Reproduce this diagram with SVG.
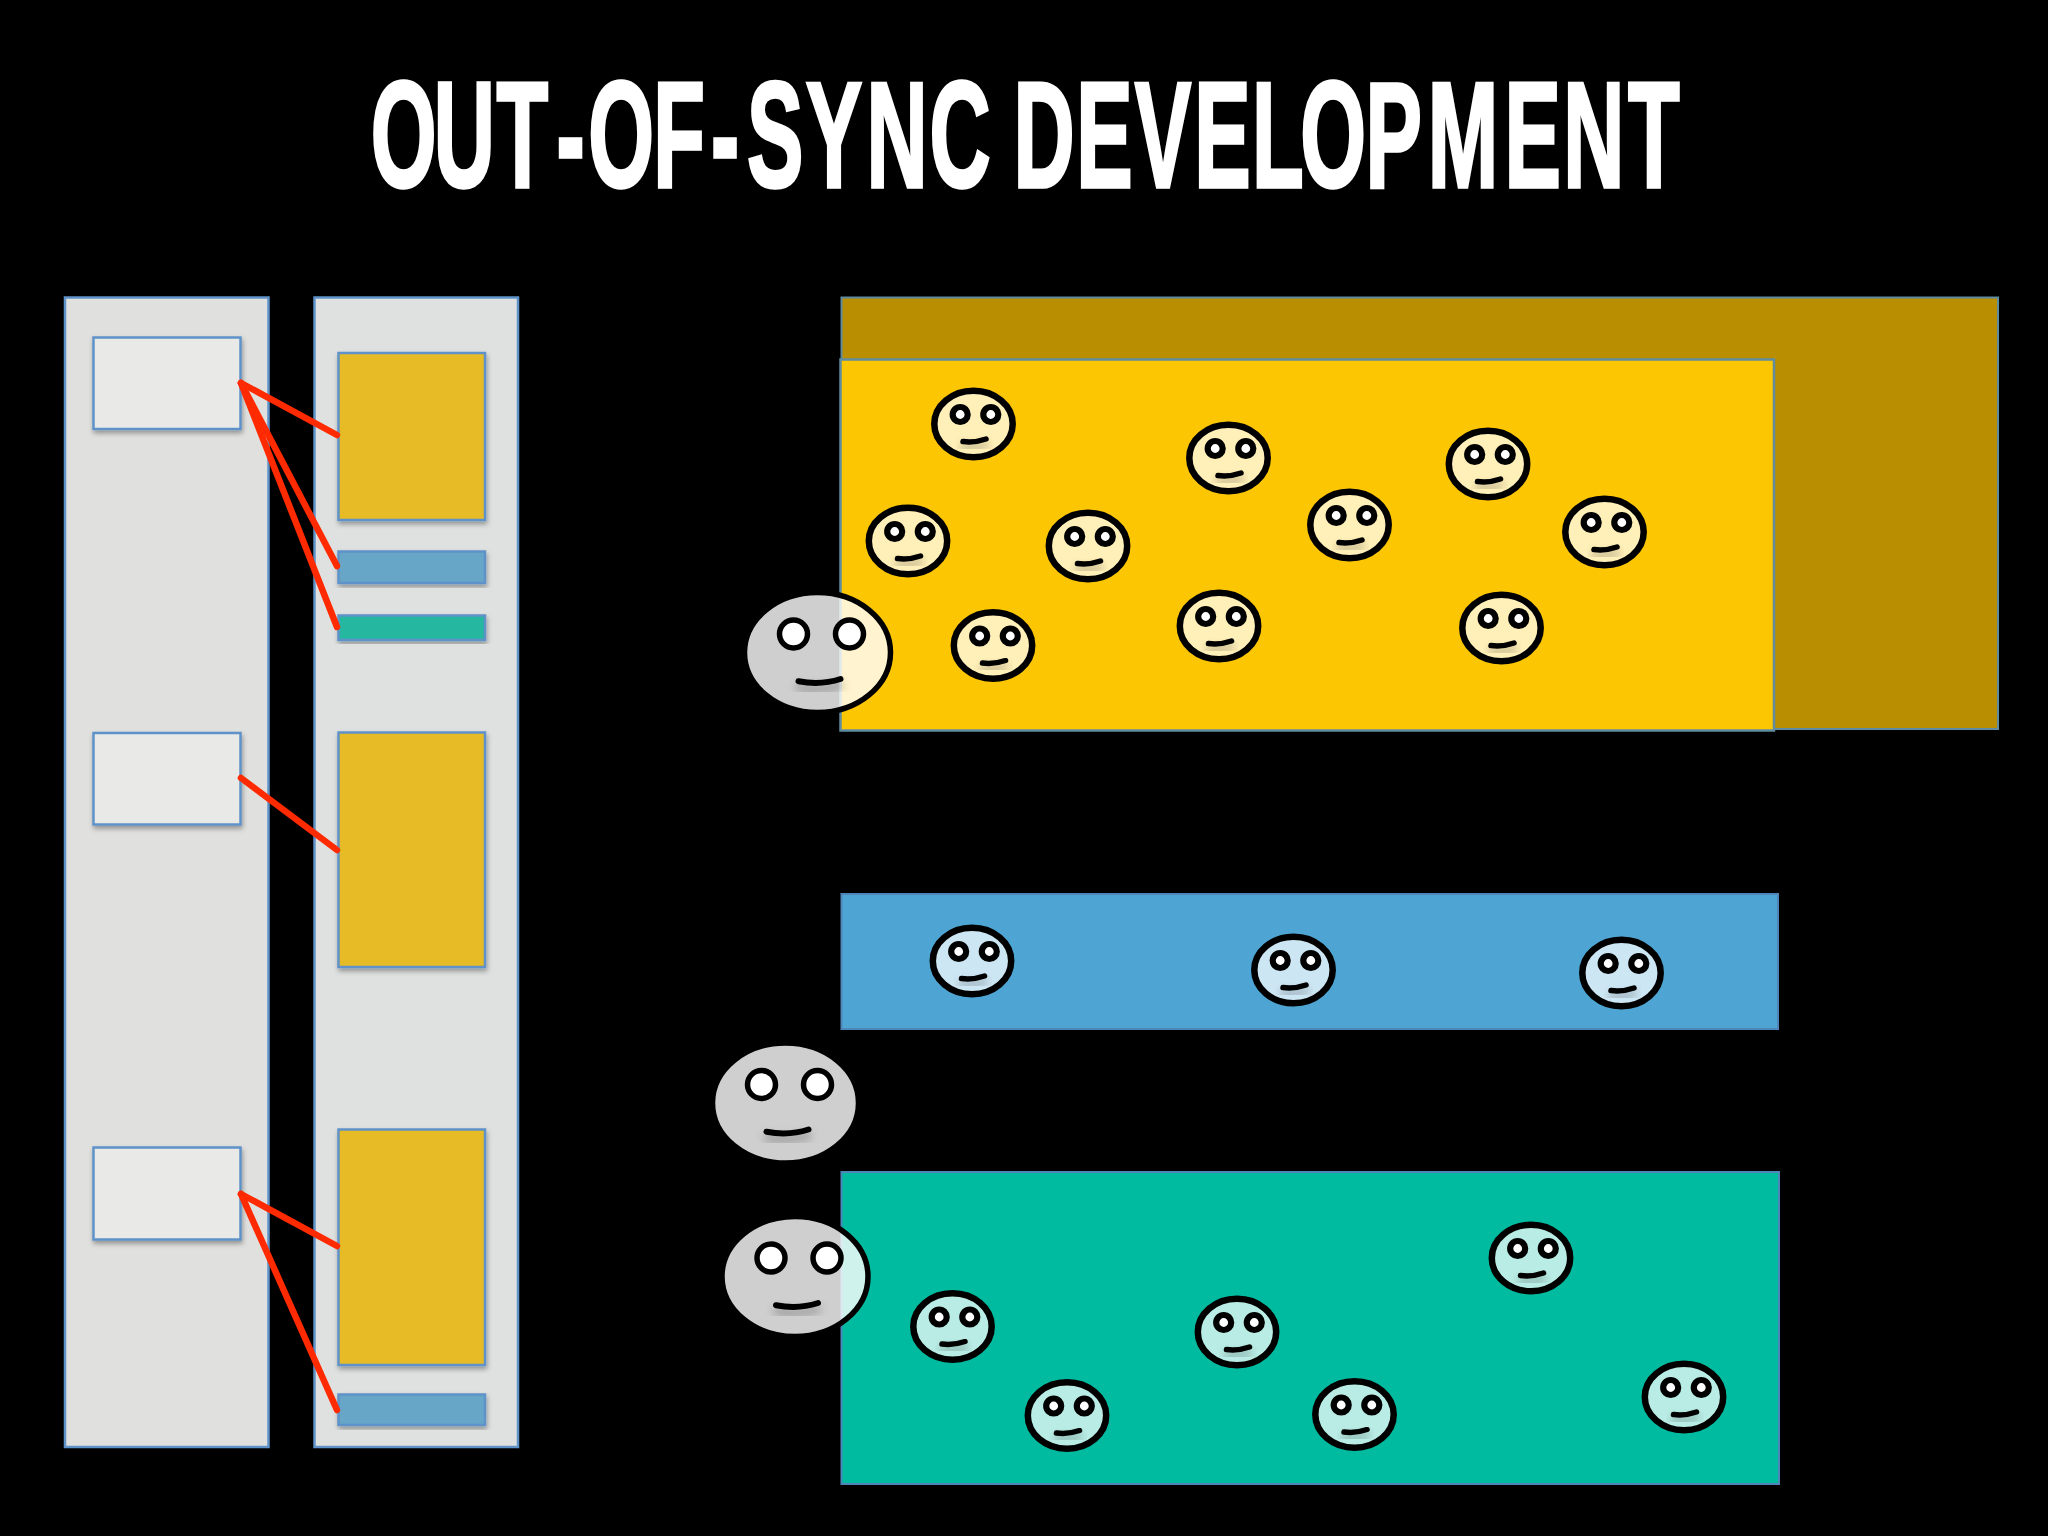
<svg xmlns="http://www.w3.org/2000/svg" xmlns:xlink="http://www.w3.org/1999/xlink" width="2048" height="1536" viewBox="0 0 2048 1536">
<style>
.panel{stroke:#5f92c8;stroke-width:2.5}
.col{fill:#e0e1df}
.box{fill:#e9e9e8;filter:url(#sh)}
.g{fill:#e6bb27;filter:url(#sh)}
.b{fill:#67a6c7;filter:url(#sh)}
.t{fill:#26b7a0;filter:url(#sh)}
.face{fill:#fff;fill-opacity:.72;stroke:#000;stroke-width:6.5}
.bigface{fill:#fff;fill-opacity:.81;stroke:#000;stroke-width:5.5}
.eye{fill:#fff;stroke:#000;stroke-width:5.5}
.seye{fill:#fff;stroke:#000;stroke-width:6.2}
.mouth{fill:none;stroke:#000;stroke-linecap:round;filter:url(#ms)}
.red{stroke:#ff2a00;stroke-width:6.5;stroke-linecap:round;fill:none}
text{font-family:"Liberation Sans",Arial,sans-serif;font-weight:700;fill:#fff;stroke:#fff;stroke-width:3.5}
</style>
<defs>
<filter id="sh" x="-10%" y="-10%" width="120%" height="125%"><feDropShadow dx="1" dy="3" stdDeviation="2.5" flood-color="#000" flood-opacity=".35"/></filter>
<filter id="ms" x="-30%" y="-80%" width="160%" height="400%"><feDropShadow dx="0" dy="6" stdDeviation="4" flood-color="#000" flood-opacity=".3"/></filter>
<g id="sf"><ellipse class="face" rx="39.200" ry="33.200"/><circle class="seye" cx="-13.300" cy="-9.500" r="7.500"/><circle class="seye" cx="17.300" cy="-9.500" r="7.500"/><path class="mouth" stroke-width="5.500" d="M-10.500 17.500Q1 19 12.500 15"/></g>
<g id="bf"><ellipse class="bigface" rx="73" ry="60"/><circle class="eye" cx="-24" cy="-18.500" r="14"/><circle class="eye" cx="32" cy="-18.500" r="14"/><path class="mouth" stroke-width="6" d="M-19 28.700Q3 33 23 26.500"/></g>
</defs>
<rect width="2048" height="1536" fill="#000"/>
<text id="title" transform="scale(.56 1)" y="187.500" font-size="151" x="662 774.600 886.600 993.600 1050.500 1166.600 1269.800 1333.900 1438.800 1547.300 1659.800 1785.700 1810 1921.800 2026.400 2132.500 2235.700 2322 2438.200 2549.600 2686.600 2791.600 2907.100">OUT-OF-SYNC DEVELOPMENT</text>

<g id="col1"><rect class="panel col" x="65" y="297.500" width="203.500" height="1149.500"/></g>
<g id="col2"><rect class="panel col" x="314.500" y="297.500" width="203.500" height="1149.500" style="fill:#dfe1e1"/></g>
<g id="req1"><rect class="panel box" x="93.500" y="337.500" width="147" height="91.500"/></g>
<g id="req2"><rect class="panel box" x="93.500" y="733" width="147" height="91.500"/></g>
<g id="req3"><rect class="panel box" x="93.500" y="1147.500" width="147" height="92"/></g>
<g id="task1"><rect class="panel g" x="338.500" y="353" width="146.500" height="167"/></g>
<g id="task2"><rect class="panel b" x="338.500" y="551.500" width="146.500" height="31.500"/></g>
<g id="task3"><rect class="panel t" x="338.500" y="615.500" width="146.500" height="24.500"/></g>
<g id="task4"><rect class="panel g" x="338.500" y="732.500" width="146.500" height="234.500"/></g>
<g id="task5"><rect class="panel g" x="338.500" y="1129.500" width="146.500" height="235.500"/></g>
<g id="task6"><rect class="panel b" x="338.500" y="1394.500" width="146.500" height="30.500"/></g>

<g id="connectors">
<path class="red" d="M241 383L337 435"/>
<path class="red" d="M241 383L337 566"/>
<path class="red" d="M241 383L337 627"/>
<path class="red" d="M241 778L337 850"/>
<path class="red" d="M241 1194L337 1246"/>
<path class="red" d="M241 1194L337 1410"/>
</g>

<g id="team-gold-back"><rect x="841.500" y="297.500" width="1156.500" height="431.500" fill="#b98e00" stroke="#5f8ca0" stroke-width="2"/></g>
<g id="team-gold"><rect x="840.500" y="359.500" width="933.500" height="371" fill="#fdc602" stroke="#5f8ca0" stroke-width="2.500"/></g>
<g id="team-blue"><rect x="841.500" y="894" width="936.500" height="135" fill="#4ea5d3" stroke="#4f86ba" stroke-width="2"/></g>
<g id="team-teal"><rect x="841.500" y="1172" width="937.500" height="312" fill="#00bb9f" stroke="#4f86ba" stroke-width="2"/></g>

<g id="faces-gold">
<use xlink:href="#sf" x="973.500" y="424"/><use xlink:href="#sf" x="1228.500" y="458"/><use xlink:href="#sf" x="1488" y="464"/>
<use xlink:href="#sf" x="908" y="541"/><use xlink:href="#sf" x="1088" y="546"/><use xlink:href="#sf" x="1349.500" y="525"/>
<use xlink:href="#sf" x="1604.500" y="532"/><use xlink:href="#sf" x="993" y="645.500"/><use xlink:href="#sf" x="1219" y="626"/>
<use xlink:href="#sf" x="1501.500" y="628"/>
</g>
<g id="faces-blue">
<use xlink:href="#sf" x="972" y="961"/><use xlink:href="#sf" x="1293.500" y="970"/><use xlink:href="#sf" x="1621.500" y="973"/>
</g>
<g id="faces-teal">
<use xlink:href="#sf" x="952.500" y="1326.500"/><use xlink:href="#sf" x="1237" y="1332"/><use xlink:href="#sf" x="1531" y="1258"/>
<use xlink:href="#sf" x="1067" y="1415.500"/><use xlink:href="#sf" x="1354.500" y="1414.500"/><use xlink:href="#sf" x="1684" y="1397"/>
</g>
<g id="lead-gold"><use xlink:href="#bf" x="817.500" y="652.500"/></g>
<g id="lead-blue"><use xlink:href="#bf" x="785.500" y="1103"/></g>
<g id="lead-teal"><use xlink:href="#bf" x="795" y="1276.500"/></g>
</svg>
